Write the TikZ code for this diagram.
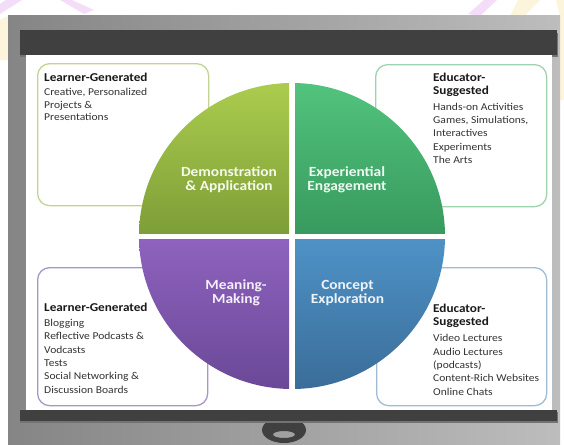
\documentclass[tikz,border=0pt]{standalone}
\usepackage{fontspec}
\setmainfont{Carlito}[FakeStretch=1.1]
\definecolor{frameL}{HTML}{858585}
\definecolor{frameR}{HTML}{BDBDBD}
\definecolor{barC}{HTML}{404040}
\definecolor{tlB}{HTML}{C2D494}
\definecolor{trB}{HTML}{9ED3B0}
\definecolor{blB}{HTML}{A896C8}
\definecolor{brB}{HTML}{9FBCD4}
\definecolor{qaT}{HTML}{ACCD4E}
\definecolor{qaB}{HTML}{7E9E38}
\definecolor{qbT}{HTML}{52C47E}
\definecolor{qbB}{HTML}{389A5E}
\definecolor{qcT}{HTML}{8E62BE}
\definecolor{qcB}{HTML}{6A4896}
\definecolor{qdT}{HTML}{4E92C6}
\definecolor{qdB}{HTML}{3A6C98}
\definecolor{wmPink}{HTML}{F3DDF8}
\definecolor{wmYel}{HTML}{FDF4DC}
\tikzset{
  infobox/.style={draw, line width=1.3pt, rounded corners=12pt, fill=white, anchor=north west, inner sep=0},
  head/.style={anchor=base west, inner sep=0, font=\bfseries\fontsize{12}{12.6}\selectfont, align=left, text=black!90},
  body/.style={anchor=base west, inner sep=0, font=\fontsize{10.5}{13.3}\selectfont, align=left, text=black!80},
  qlabel/.style={anchor=base, inner sep=0, font=\bfseries\fontsize{14}{14.5}\selectfont, align=center}
}
\begin{document}
\begin{tikzpicture}[x=1pt,y=-1pt]
\useasboundingbox (0,0) rectangle (564,444);
\fill[white] (0,0) rectangle (564,444);
% faint background marks
\fill[wmPink] (0,4) -- (6,0) -- (22,0) -- (0,14) -- cycle;
\fill[wmYel] (0,20) -- (8,16) -- (8,60) -- (0,60) -- cycle;
\fill[wmPink] (60,0) -- (72,0) -- (94,10) -- (84,14) -- cycle;
\fill[wmPink] (468,14) -- (484,0) -- (497,0) -- (480,16) -- cycle;
\fill[wmYel] (518,0) -- (540,0) -- (524,16) -- (510,16) -- cycle;
\fill[wmYel] (556,0) -- (564,0) -- (564,100) -- (560,100) -- (560,16) -- cycle;
% frame
\shade[left color=frameL, right color=frameR] (8,16) rectangle (560,444);
% ring
\fill[barC, even odd rule] (284,430) ellipse (22 and 13) (284,434.5) ellipse (11 and 3.5);
% top bar
\fill[black!55] (20,33) rectangle (558,57);
\fill[barC] (20,30) rectangle (557,55);
% screen
\fill[white] (26,55) rectangle (552,410);
% bottom bar
\fill[black!55] (20,412) rectangle (558,423);
\fill[barC] (20,410) rectangle (557,421);
% boxes
\node[infobox, draw=tlB, minimum width=171, minimum height=142] (boxtl) at (37,63) {};
\node[infobox, draw=trB, minimum width=171, minimum height=142] (boxtr) at (375,64) {};
\node[infobox, draw=blB, minimum width=170, minimum height=138] (boxbl) at (37,267) {};
\node[infobox, draw=brB, minimum width=170, minimum height=138] (boxbr) at (376,267) {};
% quadrants
\begin{scope}
\clip (292,236) circle (153);
\shade[top color=qaT, bottom color=qaB] (130,80) rectangle (289,233);
\shade[top color=qbT, bottom color=qbB] (295,80) rectangle (450,233);
\shade[top color=qcT, bottom color=qcB] (130,239) rectangle (289,392);
\shade[top color=qdT, bottom color=qdB] (295,239) rectangle (450,392);
\end{scope}
% quadrant labels (anchor = baseline of last line)
\node[qlabel, text=white!88!qaT] (qa) at (229,190.5) {Demonstration\\\& Application};
\node[qlabel, text=white!90!qbT] (qb) at (347,190.5) {Experiential\\Engagement};
\node[qlabel, text=white!90!qcT] (qc) at (236,303.5) {Meaning-\\Making};
\node[qlabel, text=white!90!qdT] (qd) at (347.5,303.5) {Concept\\Exploration};
% texts (anchor = baseline of last line)
\node[head] (htl) at (44,81) {Learner-Generated};
\node[body, font=\fontsize{10.5}{12.5}\selectfont] (btl) at (44,120.5) {Creative, Personalized\\Projects \&\\Presentations};
\node[head] (htr) at (433,94.5) {Educator-\\Suggested};
\node[body] (btr) at (433,163.5) {Hands-on Activities\\Games, Simulations,\\Interactives\\Experiments\\The Arts};
\node[head] (hbl) at (44,311.5) {Learner-Generated};
\node[body] (bbl) at (44,393) {Blogging\\Reflective Podcasts \&\\Vodcasts\\Tests\\Social Networking \&\\Discussion Boards};
\node[head] (hbr) at (433,325) {Educator-\\Suggested};
\node[body] (bbr) at (433,395) {Video Lectures\\Audio Lectures\\(podcasts)\\Content-Rich Websites\\Online Chats};
\end{tikzpicture}
\end{document}
